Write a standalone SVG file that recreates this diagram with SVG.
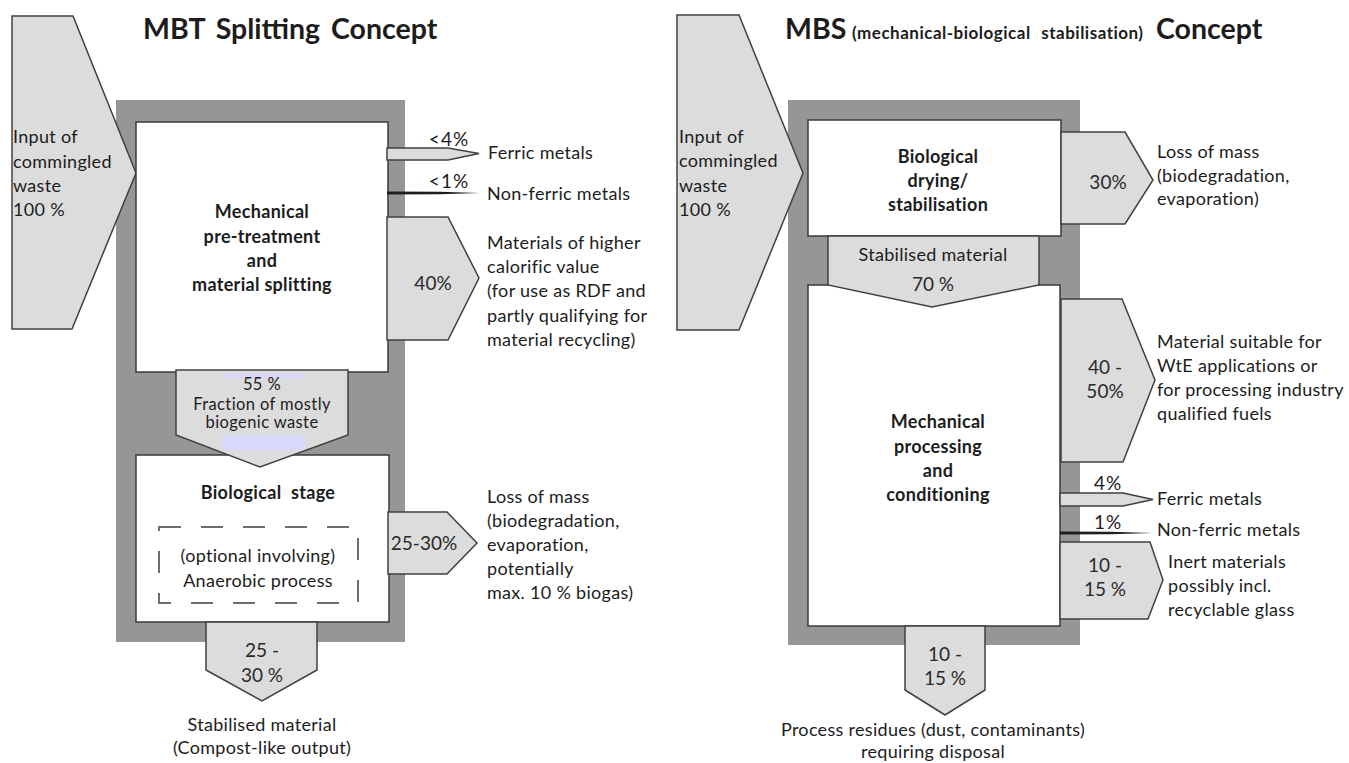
<svg xmlns="http://www.w3.org/2000/svg" width="1349" height="763" viewBox="0 0 1349 763">
  <style>
    .frame { fill: #969696; }
    .box { fill: #ffffff; stroke: #3a3a3a; stroke-width: 1.5; }
    .flow { fill: #dcdcdc; stroke: #404040; stroke-width: 1.5; stroke-linejoin: miter; }
    .thin { fill: #1e1e1e; }
    .hl { fill: #d8d8ff; }
    text { font-family: Lato, "Open Sans", "Liberation Sans", sans-serif; fill: #1c1c1c; font-size: 18px; letter-spacing: 0.3px; }
    .b { font-weight: bold; }
    .c { text-anchor: middle; }
    .title { font-size: 28.5px; font-weight: bold; letter-spacing: 0; }
    .sub { font-size: 17px; font-weight: bold; letter-spacing: 0.5px; word-spacing: 6px; }
    .num { font-size: 19px; fill: #2a2a2a; letter-spacing: 0; }
    .pct { font-size: 19px; letter-spacing: 1px; }
    .tight { font-size: 16.5px; letter-spacing: 0.4px; }
    .dash { fill: none; stroke: #6e6e6e; stroke-width: 2; stroke-dasharray: 22 20; }
  </style>

  <!-- ===================== MBT splitting concept ===================== -->
  <g id="mbt-title">
    <text class="title" x="143" y="39" word-spacing="4">MBT Splitting Concept</text>
  </g>

  <g id="mbt-frame">
    <rect class="frame" x="116" y="100" width="289" height="542"/>
  </g>

  <g id="mbt-input">
    <polygon class="flow" points="12,16 73,16 136,173 72,329 12,329"/>
    <text x="13" y="143">Input of</text>
    <text x="13" y="168">commingled</text>
    <text x="13" y="192">waste</text>
    <text x="13" y="216">100 %</text>
  </g>

  <g id="mbt-mechanical">
    <rect class="box" x="136" y="122" width="252" height="250"/>
    <text class="b c" x="262" y="218">Mechanical</text>
    <text class="b c" x="262" y="243">pre-treatment</text>
    <text class="b c" x="262" y="267">and</text>
    <text class="b c" x="262" y="291">material splitting</text>
  </g>

  <g id="mbt-biological">
    <rect class="box" x="136" y="455" width="253" height="167"/>
    <text class="b c" x="268" y="499" word-spacing="5">Biological stage</text>
    <rect class="dash" x="159" y="527" width="199" height="76"/>
    <text class="c" x="258" y="562">(optional involving)</text>
    <text class="c" x="258" y="587">Anaerobic process</text>
  </g>

  <g id="connectors-mbt">
    <!-- ferric metals -->
    <polygon class="flow" points="387,148 448,148 479,153.5 448,160 387,160"/>
    <!-- non-ferric metals -->
    <polygon class="thin" points="387,191.5 440,191.8 480,193 440,194.2 387,194.5"/>
    <!-- higher calorific fraction -->
    <polygon class="flow" points="387,217 448,217 479,278 448,340 387,340"/>
    <!-- biogenic fraction to biological stage -->
    <polygon class="flow" points="176,370 348,370 348,435 260,467 176,435"/>
    <rect class="hl" x="222" y="374" width="83" height="4"/>
    <rect class="hl" x="222" y="436" width="83" height="14"/>
    <!-- loss of mass -->
    <polygon class="flow" points="388,512 447,512 477,543 447,574 388,574"/>
    <!-- stabilised output -->
    <polygon class="flow" points="206,622 317,622 317,670 262,701 206,670"/>
  </g>

  <g id="mbt-labels">
    <text class="c pct" x="449" y="146">&lt;4%</text>
    <text x="488" y="159">Ferric metals</text>
    <text class="c pct" x="449" y="188">&lt;1%</text>
    <text x="487" y="200">Non-ferric metals</text>
    <text class="c num" x="433" y="290">40%</text>
    <text x="487" y="249">Materials of higher</text>
    <text x="487" y="273">calorific value</text>
    <text x="487" y="297">(for use as RDF and</text>
    <text x="487" y="322">partly qualifying for</text>
    <text x="487" y="346">material recycling)</text>
    <text class="c tight" x="262" y="390">55 %</text>
    <text class="c tight" x="262" y="410">Fraction of mostly</text>
    <text class="c tight" x="262" y="428">biogenic waste</text>
    <text class="c num" x="424" y="550">25-30%</text>
    <text x="487" y="503">Loss of mass</text>
    <text x="487" y="527">(biodegradation,</text>
    <text x="487" y="551">evaporation,</text>
    <text x="487" y="575">potentially</text>
    <text x="487" y="599">max. 10 % biogas)</text>
    <text class="c num" x="262" y="657">25 -</text>
    <text class="c num" x="262" y="682">30 %</text>
    <text class="c" x="262" y="731">Stabilised material</text>
    <text class="c" x="262" y="754">(Compost-like output)</text>
  </g>

  <!-- ===================== MBS concept ===================== -->
  <g id="mbs-title">
    <text class="title" x="785" y="39">MBS</text>
    <text class="sub" x="852" y="39">(mechanical-biological stabilisation)</text>
    <text class="title" x="1156" y="39">Concept</text>
  </g>

  <g id="mbs-frame">
    <rect class="frame" x="788" y="100" width="292" height="545"/>
  </g>

  <g id="mbs-input">
    <polygon class="flow" points="677,15 739,15 803,173 739,330 677,330"/>
    <text x="679" y="143">Input of</text>
    <text x="679" y="167">commingled</text>
    <text x="679" y="192">waste</text>
    <text x="679" y="216">100 %</text>
  </g>

  <g id="mbs-drying">
    <rect class="box" x="808" y="120" width="253" height="116"/>
    <text class="b c" x="938" y="163">Biological</text>
    <text class="b c" x="938" y="187">drying/</text>
    <text class="b c" x="938" y="211">stabilisation</text>
  </g>

  <g id="mbs-mechanical">
    <rect class="box" x="808" y="285" width="252" height="341"/>
    <text class="b c" x="938" y="428">Mechanical</text>
    <text class="b c" x="938" y="453">processing</text>
    <text class="b c" x="938" y="477">and</text>
    <text class="b c" x="938" y="501">conditioning</text>
  </g>

  <g id="connectors-mbs">
    <!-- loss of mass -->
    <polygon class="flow" points="1061,132 1125,132 1153,180 1125,224 1061,224"/>
    <!-- stabilised material to mechanical processing -->
    <polygon class="flow" points="828,236 1039,236 1039,285 932,307 828,285"/>
    <!-- WtE material -->
    <polygon class="flow" points="1061,299 1122,299 1155,380 1123,462 1061,462"/>
    <!-- ferric metals -->
    <polygon class="flow" points="1060,493 1123,493 1153,499.5 1123,506 1060,506"/>
    <!-- non-ferric metals -->
    <polygon class="thin" points="1060,531.5 1110,531.8 1153,533 1110,534.2 1060,534.5"/>
    <!-- inert materials -->
    <polygon class="flow" points="1060,542 1150,542 1163,580 1148,619 1060,619"/>
    <!-- process residues -->
    <polygon class="flow" points="905,626 985,626 985,690 945,715 905,690"/>
  </g>

  <g id="mbs-labels">
    <text class="c num" x="1108" y="189">30%</text>
    <text x="1157" y="158">Loss of mass</text>
    <text x="1157" y="182">(biodegradation,</text>
    <text x="1157" y="205">evaporation)</text>
    <text class="c" x="933" y="261">Stabilised material</text>
    <text class="c num" x="933" y="291">70 %</text>
    <text class="c num" x="1105" y="374">40 -</text>
    <text class="c num" x="1105" y="398">50%</text>
    <text x="1157" y="348">Material suitable for</text>
    <text x="1157" y="372">WtE applications or</text>
    <text x="1157" y="396">for processing industry</text>
    <text x="1157" y="420">qualified fuels</text>
    <text class="c pct" x="1108" y="490">4%</text>
    <text x="1157" y="505">Ferric metals</text>
    <text class="c pct" x="1108" y="529">1%</text>
    <text x="1157" y="536">Non-ferric metals</text>
    <text class="c num" x="1105" y="572">10 -</text>
    <text class="c num" x="1105" y="596">15 %</text>
    <text x="1168" y="568">Inert materials</text>
    <text x="1168" y="592">possibly incl.</text>
    <text x="1168" y="616">recyclable glass</text>
    <text class="c num" x="945" y="661">10 -</text>
    <text class="c num" x="945" y="685">15 %</text>
    <text class="c" x="933" y="736">Process residues (dust, contaminants)</text>
    <text class="c" x="933" y="758">requiring disposal</text>
  </g>
</svg>
